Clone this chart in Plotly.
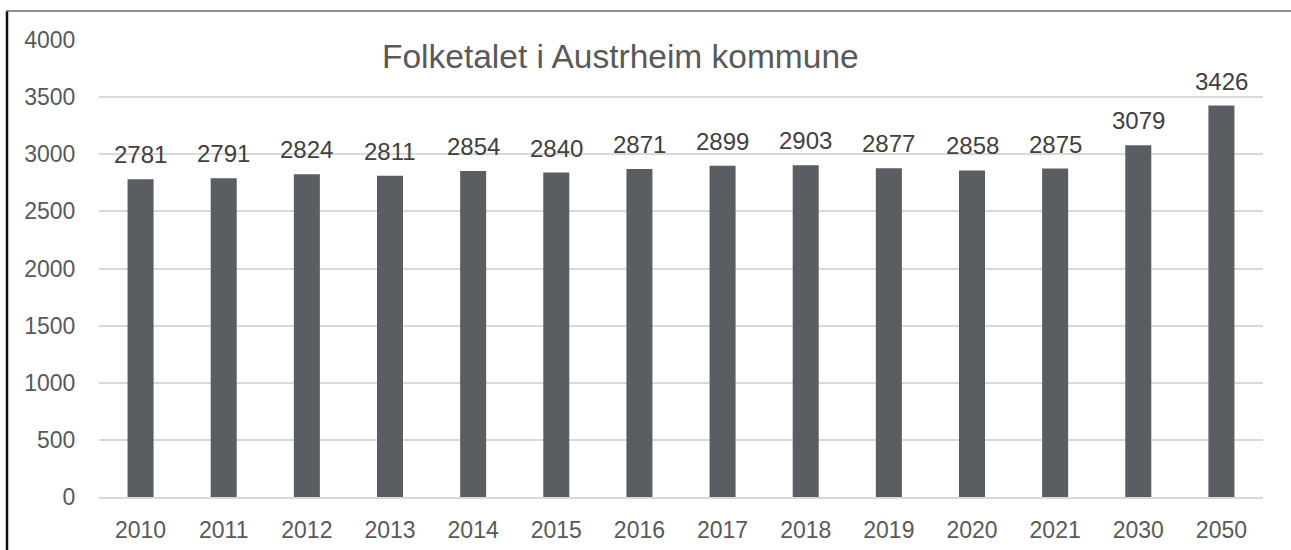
import plotly.graph_objects as go

years = ["2010", "2011", "2012", "2013", "2014", "2015", "2016", "2017",
         "2018", "2019", "2020", "2021", "2030", "2050"]
population = [2781, 2791, 2824, 2811, 2854, 2840, 2871, 2899,
              2903, 2877, 2858, 2875, 3079, 3426]
y_ticks = [0, 500, 1000, 1500, 2000, 2500, 3000, 3500, 4000]
title_text = "Folketalet i Austrheim kommune"

W, H = 1291, 550
ML, MR, MT, MB = 99, 28, 40, 53
PW = W - ML - MR
PH = H - MT - MB

def px_x(p):
    return (p - ML) / PW

def px_y(p):
    return (H - MB - p) / PH

FONT = "Liberation Sans, Arial, sans-serif"

fig = go.Figure()
fig.add_trace(go.Bar(
    x=years, y=population,
    marker=dict(color="#5A5E62", line=dict(width=0)),
    hoverinfo="x+y",
))

annotations = []
for i, v in enumerate(population):
    annotations.append(dict(
        x=i, y=v, xref="x", yref="y",
        text=str(v), showarrow=False,
        yanchor="bottom", xanchor="center", yshift=9,
        font=dict(family=FONT, size=24, color="#404040"),
    ))

annotations.append(dict(
    x=px_x(620), y=px_y(56), xref="paper", yref="paper",
    text=title_text, showarrow=False,
    xanchor="center", yanchor="middle",
    font=dict(family=FONT, size=33.5, color="#595959"),
))

shapes = [
    dict(type="line", xref="paper", yref="paper",
         x0=px_x(7), x1=px_x(7), y0=px_y(11), y1=px_y(552),
         line=dict(color="#111111", width=2.5)),
    dict(type="line", xref="paper", yref="paper",
         x0=px_x(6), x1=px_x(1291), y0=px_y(11), y1=px_y(11),
         line=dict(color="#6b6b6b", width=1.5)),
]

fig.update_layout(
    width=W, height=H,
    margin=dict(l=ML, r=MR, t=MT, b=MB, pad=0, autoexpand=False),
    paper_bgcolor="white", plot_bgcolor="white",
    showlegend=False,
    bargap=0.687,
    font=dict(family=FONT, size=23, color="#595959"),
    annotations=annotations,
    shapes=shapes,
    xaxis=dict(
        type="category", range=[-0.5, len(years) - 0.5],
        automargin=False,
        showgrid=False, zeroline=False,
        showline=True, linecolor="#D9D9D9", linewidth=1.5,
        ticks="outside", ticklen=12, tickcolor="rgba(0,0,0,0)",
        tickfont=dict(family=FONT, size=23, color="#595959"),
    ),
    yaxis=dict(
        range=[0, 4000], tickvals=y_ticks,
        automargin=False,
        showgrid=True, gridcolor="#D9D9D9", gridwidth=1.5,
        zeroline=False, showline=False,
        ticks="outside", ticklen=18, tickcolor="rgba(0,0,0,0)",
        tickfont=dict(family=FONT, size=23, color="#595959"),
    ),
)

fig.write_html(
    "out.html",
    config={"displayModeBar": False},
    post_script="document.body.style.margin='0';document.body.style.overflow='hidden';",
)
